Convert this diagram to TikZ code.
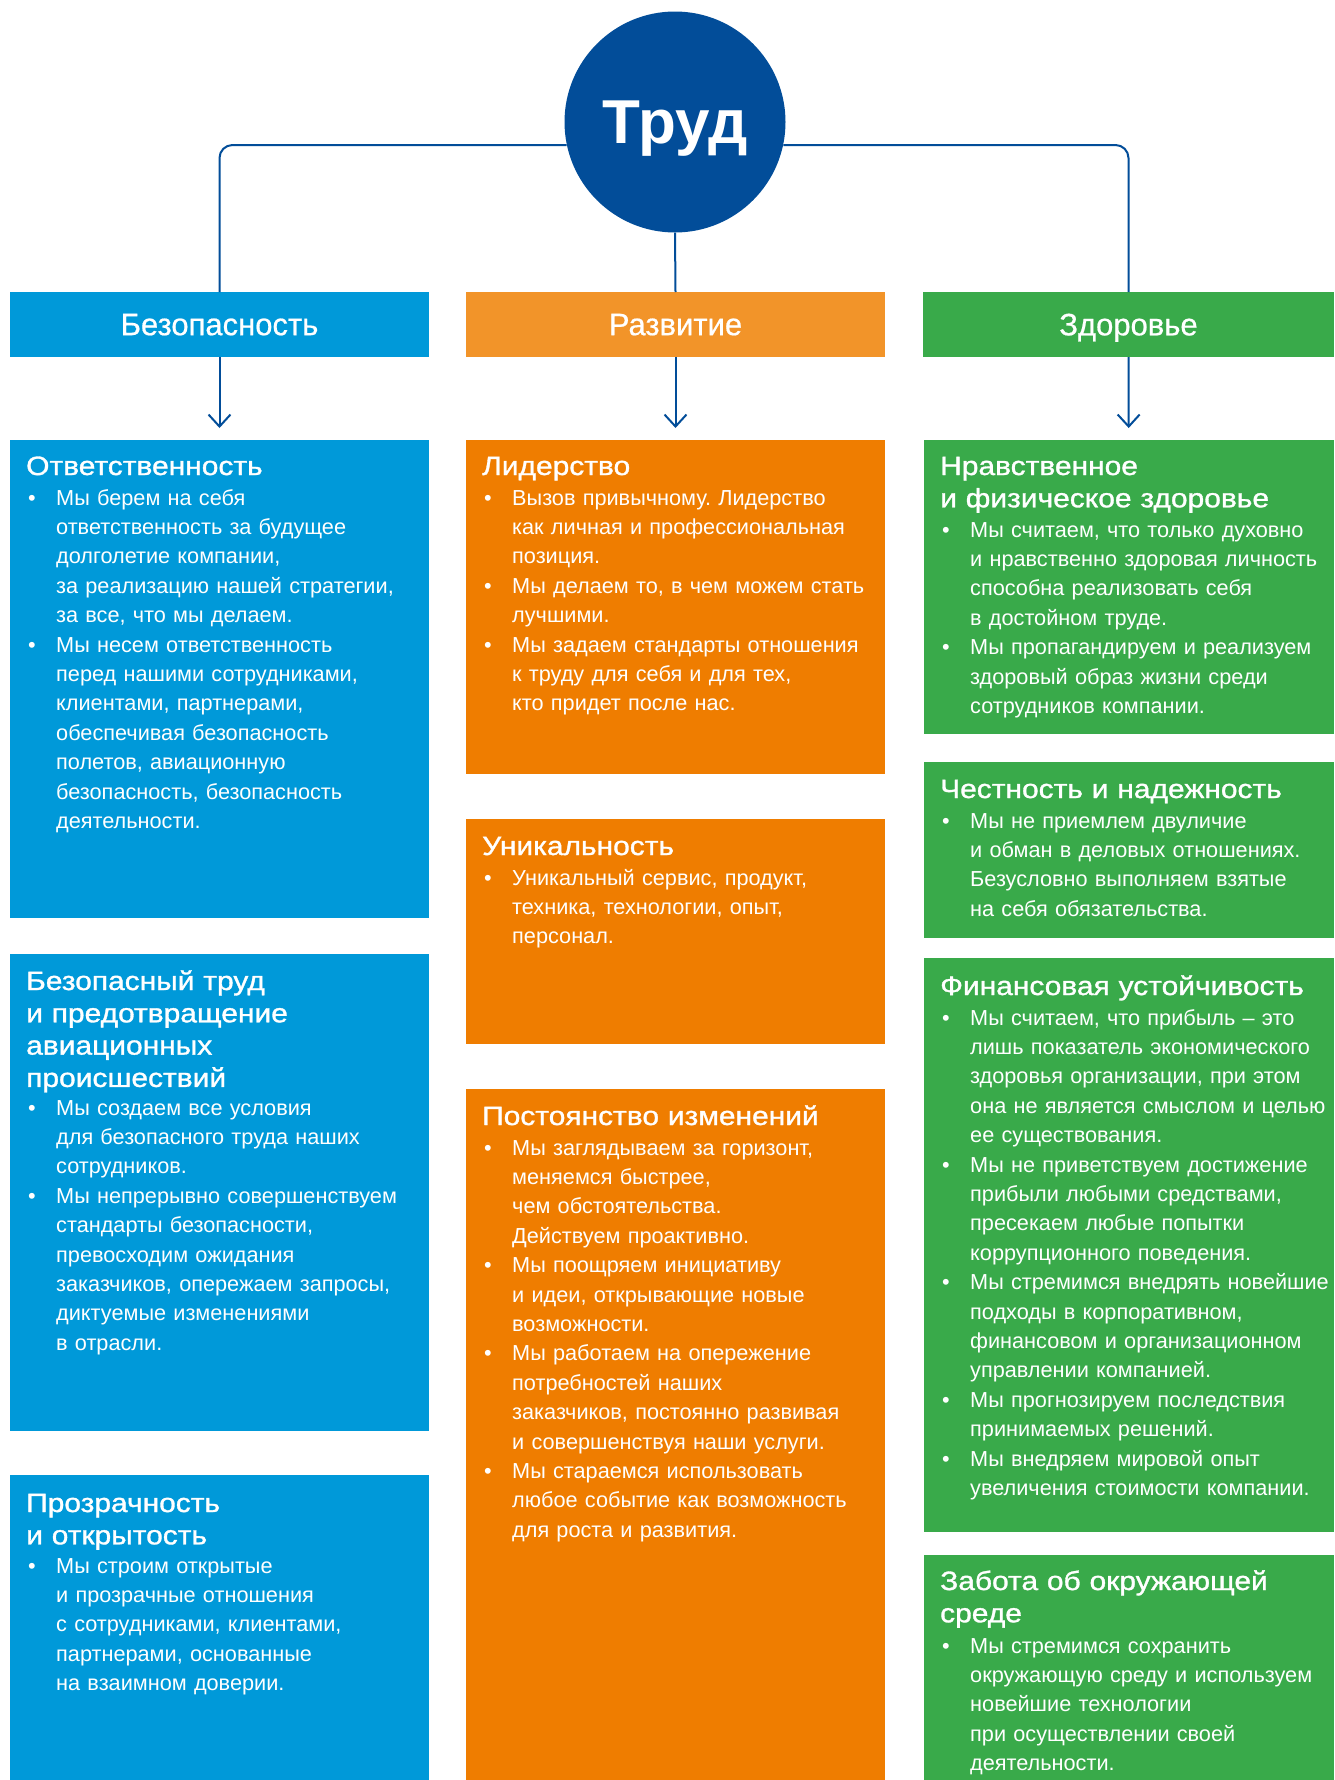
\documentclass[tikz,border=0pt]{standalone}
\usepackage{fontspec}
\setmainfont{Liberation Sans}
\newfontfamily\ttlfont[FakeStretch=1.13,FakeBold=1.2]{Liberation Sans}
\newfontfamily\hdrfont[FakeBold=0.6]{Liberation Sans}
\usetikzlibrary{arrows.meta}
\definecolor{cblue}{RGB}{0,153,217}
\definecolor{corangeh}{RGB}{242,148,41}
\definecolor{corange}{RGB}{239,125,0}
\definecolor{cgreen}{RGB}{57,170,74}
\definecolor{cdark}{RGB}{2,77,153}
\newcommand\bu{\leavevmode\llap{\makebox[28pt][l]{•}}}
\frenchspacing
\begin{document}
\begin{tikzpicture}[x=1pt,y=-1pt,
  conn/.style={draw=cdark, line width=2pt},
  box/.style={rectangle, inner sep=0pt, outer sep=0pt, anchor=north west, draw=none},
  hdr/.style={box, minimum width=419pt, minimum height=65pt, text=white, text depth=0pt,
    font=\hdrfont\fontsize{31}{36}\selectfont},
  ttl/.style={anchor=base west, inner sep=0pt, text=white, align=left, text width=400pt,
    font=\ttlfont\fontsize{26.5}{32.3}\selectfont},
  bdy/.style={anchor=base west, inner sep=0pt, text=white, align=left, text width=400pt,
    font=\frenchspacing\fontsize{21.7}{29.4}\selectfont},
  arr/.style={conn, -{Straight Barb[length=12pt,width=22pt]}, shorten >=12pt}
]
\useasboundingbox (0,0) rectangle (1334,1780);
\fill[white] (0,0) rectangle (1334,1780);

% central circle
\node[circle, fill=cdark, minimum size=221pt, inner sep=0pt, text=white, text depth=0pt,
  font=\bfseries\fontsize{62}{70}\selectfont] (trud) at (675,122) {Труд};

% headers
\node[hdr, fill=cblue] (hB) at (10,292) {Безопасность};
\node[hdr, fill=corangeh] (hR) at (466,292) {Развитие};
\node[hdr, fill=cgreen, minimum width=411pt] (hZ) at (923,292) {Здоровье};

% connectors from circle
\draw[conn, rounded corners=13pt] (trud.192.5) -| (hB.north);
\draw[conn, rounded corners=13pt] (trud.-12.5) -| (hZ.north);
\draw[conn] (trud.south) -- (hR.north);

% content boxes
\node[box, fill=cblue, minimum width=419pt, minimum height=478pt] (b1) at (10,440) {};
\node[box, fill=cblue, minimum width=419pt, minimum height=477pt] (b2) at (10,954) {};
\node[box, fill=cblue, minimum width=419pt, minimum height=305pt] (b3) at (10,1475) {};
\node[box, fill=corange, minimum width=419pt, minimum height=334pt] (o1) at (466,440) {};
\node[box, fill=corange, minimum width=419pt, minimum height=225pt] (o2) at (466,819) {};
\node[box, fill=corange, minimum width=419pt, minimum height=691pt] (o3) at (466,1089) {};
\node[box, fill=cgreen, minimum width=410pt, minimum height=294pt] (g1) at (924,440) {};
\node[box, fill=cgreen, minimum width=410pt, minimum height=176pt] (g2) at (924,762) {};
\node[box, fill=cgreen, minimum width=410pt, minimum height=574pt] (g3) at (924,958) {};
\node[box, fill=cgreen, minimum width=410pt, minimum height=225pt] (g4) at (924,1555) {};

% arrows
\draw[arr] (hB) -- (b1);
\draw[arr] (hR) -- (o1);
\draw[arr] (hZ) -- (g1);

% blue column texts
\node[ttl] (b1t) at (26,475) {Ответственность};
\node[bdy] (b1b) at (56,505) {\bu Мы берем на себя\\
ответственность за будущее\\
долголетие компании,\\
за реализацию нашей стратегии,\\
за все, что мы делаем.\\
\bu Мы несем ответственность\\
перед нашими сотрудниками,\\
клиентами, партнерами,\\
обеспечивая безопасность\\
полетов, авиационную\\
безопасность, безопасность\\
деятельности.};

\node[ttl] (b2t) at (26,990) {Безопасный труд\\
и предотвращение\\
авиационных\\
происшествий};
\node[bdy] (b2b) at (56,1115) {\bu Мы создаем все условия\\
для безопасного труда наших\\
сотрудников.\\
\bu Мы непрерывно совершенствуем\\
стандарты безопасности,\\
превосходим ожидания\\
заказчиков, опережаем запросы,\\
диктуемые изменениями\\
в отрасли.};

\node[ttl] (b3t) at (26,1512) {Прозрачность\\
и открытость};
\node[bdy] (b3b) at (56,1573) {\bu Мы строим открытые\\
и прозрачные отношения\\
с сотрудниками, клиентами,\\
партнерами, основанные\\
на взаимном доверии.};

% orange column texts
\node[ttl] (o1t) at (482,475) {Лидерство};
\node[bdy] (o1b) at (512,505) {\bu Вызов привычному. Лидерство\\
как личная и профессиональная\\
позиция.\\
\bu Мы делаем то, в чем можем стать\\
лучшими.\\
\bu Мы задаем стандарты отношения\\
к труду для себя и для тех,\\
кто придет после нас.};

\node[ttl] (o2t) at (482,855) {Уникальность};
\node[bdy] (o2b) at (512,885) {\bu Уникальный сервис, продукт,\\
техника, технологии, опыт,\\
персонал.};

\node[ttl] (o3t) at (482,1125) {Постоянство изменений};
\node[bdy] (o3b) at (512,1155) {\bu Мы заглядываем за горизонт,\\
меняемся быстрее,\\
чем обстоятельства.\\
Действуем проактивно.\\
\bu Мы поощряем инициативу\\
и идеи, открывающие новые\\
возможности.\\
\bu Мы работаем на опережение\\
потребностей наших\\
заказчиков, постоянно развивая\\
и совершенствуя наши услуги.\\
\bu Мы стараемся использовать\\
любое событие как возможность\\
для роста и развития.};

% green column texts
\node[ttl] (g1t) at (940,475) {Нравственное\\
и физическое здоровье};
\node[bdy] (g1b) at (970,537) {\bu Мы считаем, что только духовно\\
и нравственно здоровая личность\\
способна реализовать себя\\
в достойном труде.\\
\bu Мы пропагандируем и реализуем\\
здоровый образ жизни среди\\
сотрудников компании.};

\node[ttl] (g2t) at (940,798) {Честность и надежность};
\node[bdy] (g2b) at (970,828) {\bu Мы не приемлем двуличие\\
и обман в деловых отношениях.\\
Безусловно выполняем взятые\\
на себя обязательства.};

\node[ttl] (g3t) at (940,995) {Финансовая устойчивость};
\node[bdy] (g3b) at (970,1025) {\bu Мы считаем, что прибыль – это\\
лишь показатель экономического\\
здоровья организации, при этом\\
она не является смыслом и целью\\
ее существования.\\
\bu Мы не приветствуем достижение\\
прибыли любыми средствами,\\
пресекаем любые попытки\\
коррупционного поведения.\\
\bu Мы стремимся внедрять новейшие\\
подходы в корпоративном,\\
финансовом и организационном\\
управлении компанией.\\
\bu Мы прогнозируем последствия\\
принимаемых решений.\\
\bu Мы внедряем мировой опыт\\
увеличения стоимости компании.};

\node[ttl] (g4t) at (940,1590) {Забота об окружающей\\
среде};
\node[bdy] (g4b) at (970,1653) {\bu Мы стремимся сохранить\\
окружающую среду и используем\\
новейшие технологии\\
при осуществлении своей\\
деятельности.};
\end{tikzpicture}
\end{document}
